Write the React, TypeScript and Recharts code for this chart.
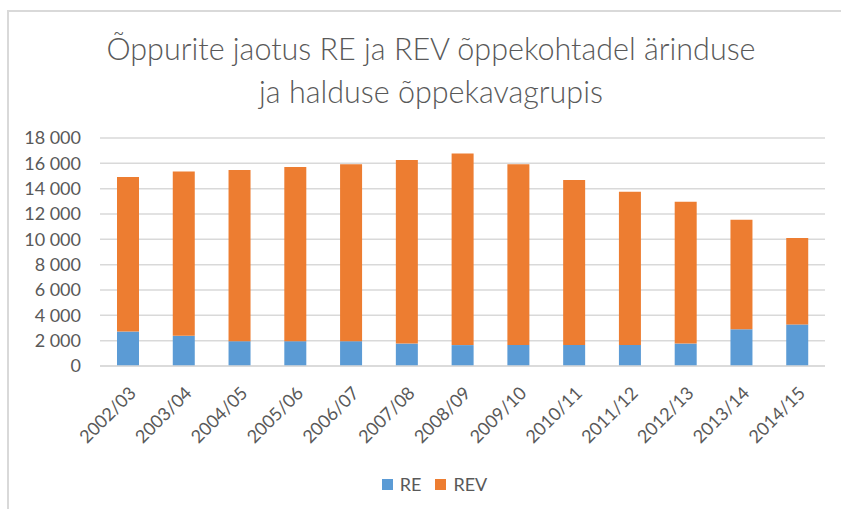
import { BarChart, Bar, XAxis, YAxis, CartesianGrid, Legend } from "recharts";

const years = [
  "2002/03", "2003/04", "2004/05", "2005/06", "2006/07", "2007/08", "2008/09",
  "2009/10", "2010/11", "2011/12", "2012/13", "2013/14", "2014/15",
];
const reValues = [2720, 2380, 1960, 1960, 1960, 1770, 1650, 1660, 1660, 1660, 1770, 2900, 3280];
const totals = [14920, 15360, 15470, 15710, 15920, 16260, 16780, 15920, 14680, 13750, 12960, 11540, 10110];
const revValues = totals.map((t, i) => t - reValues[i]);
const yTicks = [0, 2000, 4000, 6000, 8000, 10000, 12000, 14000, 16000, 18000];

const data = years.map((year, i) => ({ year, RE: reValues[i], REV: revValues[i] }));

const BLUE = "#5B9BD5";
const ORANGE = "#ED7D31";
const TEXT = "#595959";
const FONT = "Lato, 'Open Sans', sans-serif";

const fmt = (n: number) => String(n).replace(/\B(?=(\d{3})+(?!\d))/g, " ");

const XTick = (props: any) => {
  const { x, y, payload } = props;
  return (
    <g transform={`translate(${x + 5},${y + 16})`}>
      <text
        x={0}
        y={0}
        dy={6}
        textAnchor="end"
        transform="rotate(-45)"
        fill={TEXT}
        fontSize={18}
        fontFamily={FONT}
      >
        {payload.value}
      </text>
    </g>
  );
};

const LegendContent = () => (
  <div
    style={{
      display: "flex",
      justifyContent: "center",
      gap: 14,
      fontFamily: FONT,
      fontSize: 18,
      color: TEXT,
      height: 22,
      alignItems: "center",
      paddingLeft: 36,
    }}
  >
    {[
      { name: "RE", color: BLUE },
      { name: "REV", color: ORANGE },
    ].map((item) => (
      <span key={item.name} style={{ display: "flex", alignItems: "center", gap: 7 }}>
        <span style={{ width: 11, height: 11, background: item.color, display: "inline-block" }} />
        {item.name}
      </span>
    ))}
  </div>
);

const App = () => {
  return (
    <div
      style={{
        position: "absolute",
        top: 0,
        left: 0,
        width: 841,
        height: 509,
        overflow: "hidden",
        background: "#fff",
      }}
    >
      {/* frame */}
      <div
        style={{
          position: "absolute",
          left: 7,
          top: 10,
          width: 900,
          height: 600,
          border: "2px solid #D9D9D9",
        }}
      />

      {/* title */}
      <div
        style={{
          position: "absolute",
          left: 8,
          top: 27,
          width: 846,
          textAlign: "center",
          fontFamily: FONT,
          fontSize: 30.5,
          fontWeight: 300,
          lineHeight: "43px",
          color: TEXT,
        }}
      >
        Õppurite jaotus RE ja REV õppekohtadel ärinduse
        <br />
        ja halduse õppekavagrupis
      </div>

      <div style={{ position: "absolute", left: 0, top: 0 }}>
        <BarChart
          width={841}
          height={509}
          data={data}
          margin={{ top: 138, right: 16, left: 8, bottom: 0 }}
          barSize={22}
        >
          <CartesianGrid vertical={false} stroke="#D9D9D9" strokeWidth={1.5} />
          <YAxis
            width={92}
            domain={[0, 18000]}
            ticks={yTicks}
            interval={0}
            tickFormatter={fmt}
            axisLine={false}
            tickLine={false}
            tickSize={0}
            tickMargin={19}
            tick={{ fill: TEXT, fontSize: 18, fontFamily: FONT }}
          />
          <XAxis
            dataKey="year"
            height={121}
            interval={0}
            axisLine={{ stroke: "#D9D9D9", strokeWidth: 1.5 }}
            tickLine={false}
            tick={<XTick />}
          />
          <Legend verticalAlign="bottom" wrapperStyle={{ bottom: 14 }} content={<LegendContent />} />
          <Bar dataKey="RE" stackId="a" fill={BLUE} isAnimationActive={false} />
          <Bar dataKey="REV" stackId="a" fill={ORANGE} isAnimationActive={false} />
        </BarChart>
      </div>
    </div>
  );
};

export default App;
